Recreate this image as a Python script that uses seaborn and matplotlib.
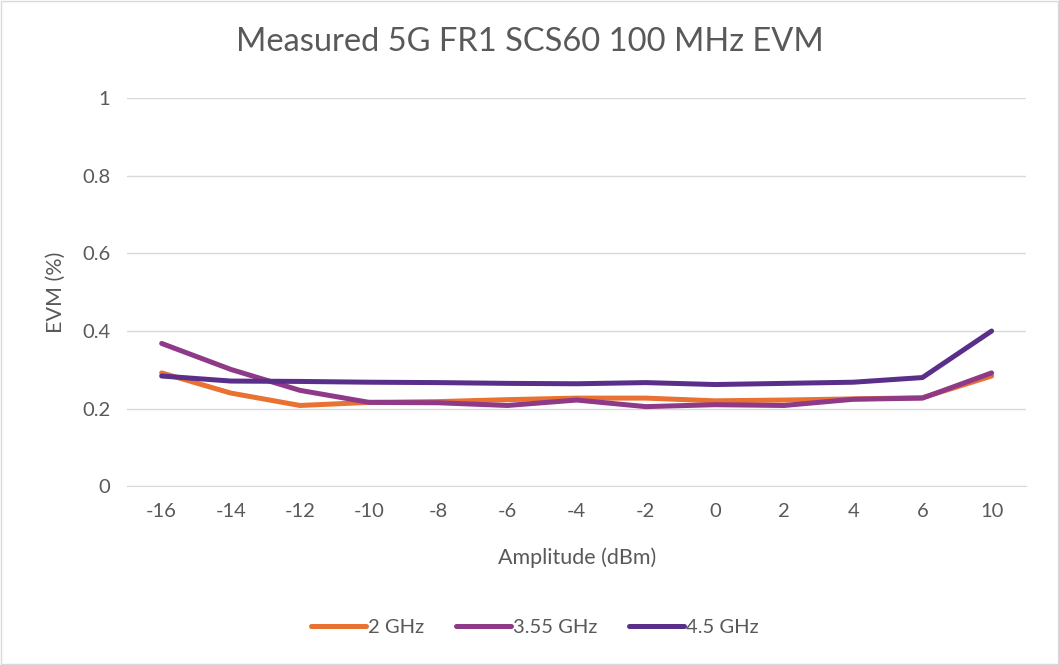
import numpy as np
import pandas as pd
import matplotlib.pyplot as plt
import seaborn as sns

# data
amplitude = [-16, -14, -12, -10, -8, -6, -4, -2, 0, 2, 4, 6, 10]
evm_2ghz = [0.292, 0.240, 0.208, 0.216, 0.218, 0.223, 0.227, 0.227, 0.220, 0.222, 0.225, 0.228, 0.284]
evm_355ghz = [0.368, 0.301, 0.247, 0.216, 0.215, 0.208, 0.222, 0.205, 0.210, 0.208, 0.224, 0.227, 0.292]
evm_45ghz = [0.284, 0.271, 0.270, 0.268, 0.267, 0.265, 0.264, 0.267, 0.262, 0.265, 0.268, 0.280, 0.400]
series = ["2 GHz", "3.55 GHz", "4.5 GHz"]
colors = ["#E97132", "#8E3A88", "#5A2F8A"]

pos = np.arange(len(amplitude))
df = pd.concat([
    pd.DataFrame({"pos": pos, "evm": vals, "series": name})
    for name, vals in zip(series, [evm_2ghz, evm_355ghz, evm_45ghz])
])

sns.set_style("white")
plt.rcParams['font.family'] = ['Lato', 'DejaVu Sans']
grey = "#595959"

fig = plt.figure(figsize=(10.59, 6.65), dpi=100)
ax = fig.add_axes([0.12, 0.269, 0.849, 0.583])

sns.lineplot(data=df, x="pos", y="evm", hue="series", palette=colors,
             linewidth=3.6, ax=ax, legend=True, solid_capstyle="round")

ax.set_xlim(-0.5, len(amplitude) - 0.5)
ax.set_ylim(0, 1)
ax.set_yticks(np.arange(0, 1.01, 0.2))
ax.set_yticklabels(["0", "0.2", "0.4", "0.6", "0.8", "1"])
ax.set_xticks(pos)
ax.set_xticklabels([str(a) for a in amplitude])
ax.grid(axis="y", color="#D9D9D9", linewidth=1)
ax.set_axisbelow(True)
for s in ["top", "right", "left"]:
    ax.spines[s].set_visible(False)
ax.spines["bottom"].set_color("#D9D9D9")
ax.tick_params(axis="both", length=0, labelsize=14.5, colors=grey, pad=12)

ax.set_xlabel("Amplitude (dBm)", fontsize=15.5, color=grey, labelpad=20)
ax.set_ylabel("EVM (%)", fontsize=15.5, color=grey, labelpad=12)
fig.suptitle("Measured 5G FR1 SCS60 100 MHz EVM", fontsize=23.5, color=grey, y=0.96)

handles, labels = ax.get_legend_handles_labels()
ax.get_legend().remove()
fig.legend(handles, labels, loc="center", bbox_to_anchor=(0.505, 0.057), ncol=3, frameon=False,
           fontsize=14.5, labelcolor=grey, handlelength=2.7, handletextpad=0.1,
           columnspacing=1.6)

fig.patches.append(plt.Rectangle((0.001, 0.001), 0.998, 0.998, transform=fig.transFigure,
                                 fill=False, edgecolor="#D9D9D9", linewidth=1))
fig.savefig("out.png", dpi=100)
